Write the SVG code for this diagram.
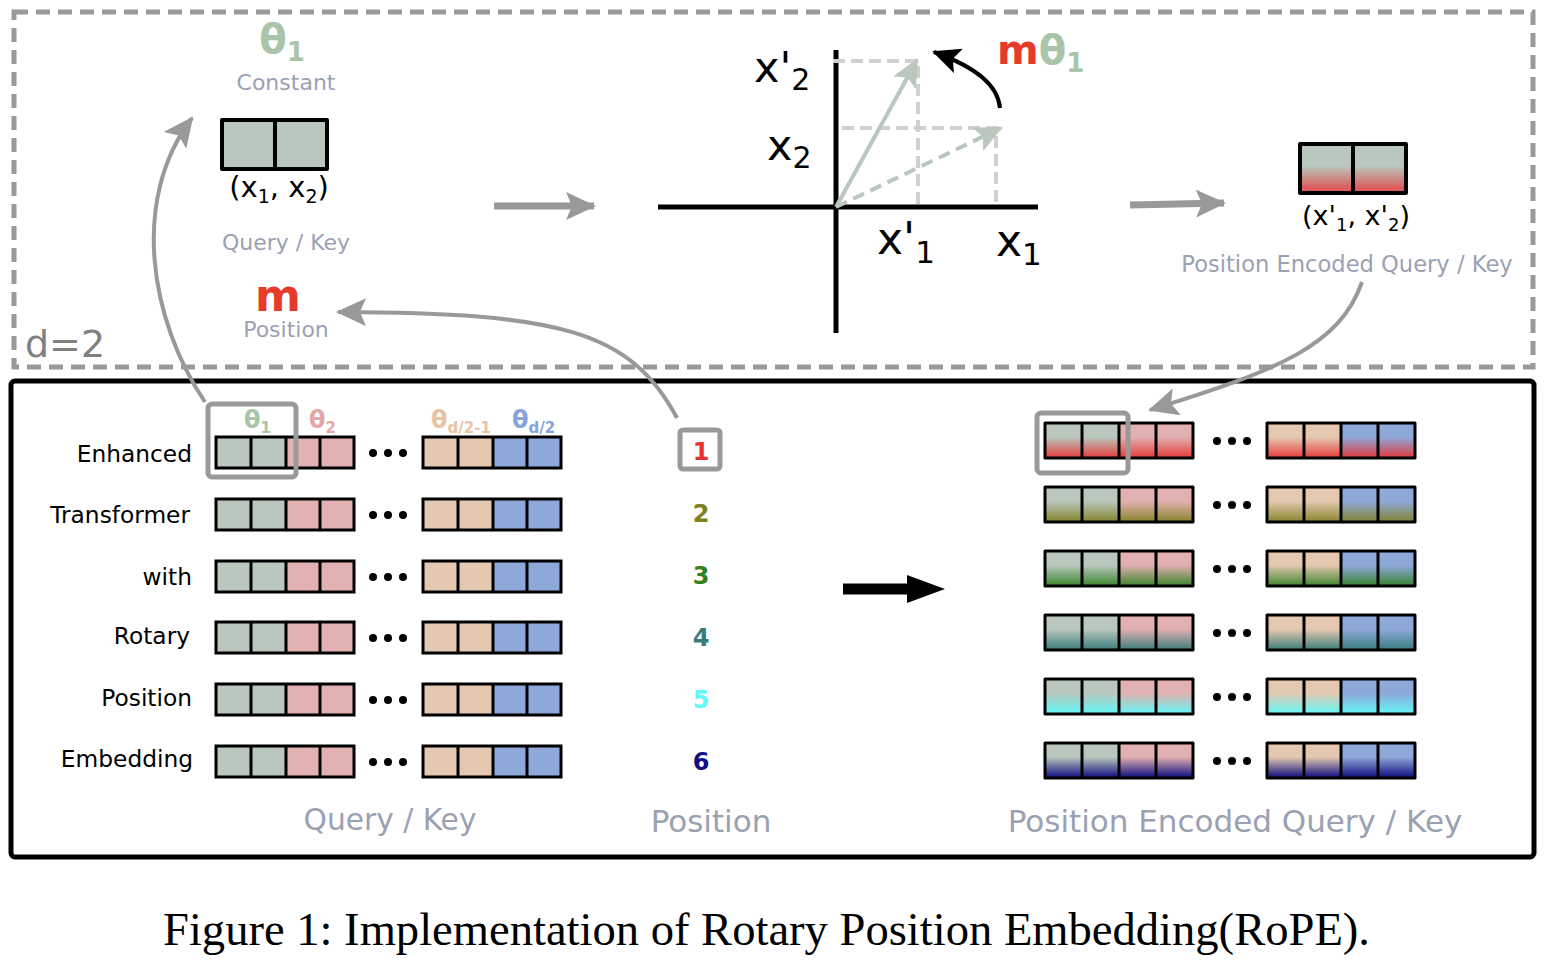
<svg xmlns="http://www.w3.org/2000/svg" width="1548" height="962" viewBox="0 0 1548 962">
<defs>
<style>
.t{font-family:"DejaVu Sans",sans-serif}
.g{fill:#9aa1b3}
.c{stroke:#000;stroke-width:3}
.gr{fill:#b9c7bd}.pk{fill:#e1b0b0}.tn{fill:#e4c8b0}.bl{fill:#8fa8da}
.cap{font-family:"Liberation Serif","Times New Roman",serif;font-size:46px}
</style>
<marker id="ag" markerUnits="userSpaceOnUse" markerWidth="32" markerHeight="28" refX="28" refY="14" orient="auto"><path d="M0,0 L30,14 L0,28 L6,14 Z" fill="#999"/></marker>
<marker id="ak" markerUnits="userSpaceOnUse" markerWidth="30" markerHeight="26" refX="26" refY="13" orient="auto"><path d="M0,0 L28,13 L0,26 L6,13 Z" fill="#000"/></marker>
<marker id="av" markerUnits="userSpaceOnUse" markerWidth="30" markerHeight="26" refX="26" refY="13" orient="auto"><path d="M0,0 L28,13 L0,26 L6,13 Z" fill="#b9c7bd"/></marker>
<linearGradient id="gTop" x1="0" y1="0" x2="0" y2="1"><stop offset="0.45" stop-color="#e05050" stop-opacity="0"/><stop offset="0.9" stop-color="#e05050" stop-opacity="0.9"/></linearGradient>
<linearGradient id="r1" x1="0" y1="0" x2="0" y2="1"><stop offset="0.4" stop-color="#e83030" stop-opacity="0"/><stop offset="0.95" stop-color="#e83030" stop-opacity="0.85"/></linearGradient>
<linearGradient id="r2" x1="0" y1="0" x2="0" y2="1"><stop offset="0.4" stop-color="#808020" stop-opacity="0"/><stop offset="0.95" stop-color="#808020" stop-opacity="0.85"/></linearGradient>
<linearGradient id="r3" x1="0" y1="0" x2="0" y2="1"><stop offset="0.4" stop-color="#308020" stop-opacity="0"/><stop offset="0.95" stop-color="#308020" stop-opacity="0.85"/></linearGradient>
<linearGradient id="r4" x1="0" y1="0" x2="0" y2="1"><stop offset="0.4" stop-color="#307878" stop-opacity="0"/><stop offset="0.95" stop-color="#307878" stop-opacity="0.85"/></linearGradient>
<linearGradient id="r5" x1="0" y1="0" x2="0" y2="1"><stop offset="0.4" stop-color="#60f8f8" stop-opacity="0"/><stop offset="0.95" stop-color="#60f8f8" stop-opacity="0.9"/></linearGradient>
<linearGradient id="r6" x1="0" y1="0" x2="0" y2="1"><stop offset="0.4" stop-color="#101080" stop-opacity="0"/><stop offset="0.95" stop-color="#101080" stop-opacity="0.95"/></linearGradient>
<g id="row">
<rect x="0" y="0" width="35" height="31" class="gr"/><rect x="35" y="0" width="35" height="31" class="gr"/>
<rect x="70" y="0" width="34" height="31" class="pk"/><rect x="104" y="0" width="34" height="31" class="pk"/>
<circle cx="157" cy="16" r="4"/><circle cx="172" cy="16" r="4"/><circle cx="187" cy="16" r="4"/>
<rect x="207" y="0" width="35" height="31" class="tn"/><rect x="242" y="0" width="35" height="31" class="tn"/>
<rect x="277" y="0" width="34" height="31" class="bl"/><rect x="311" y="0" width="34" height="31" class="bl"/>
<path d="M0,0H138V31H0Z M35,0V31 M70,0V31 M104,0V31 M207,0H345V31H207Z M242,0V31 M277,0V31 M311,0V31" fill="none" class="c"/>
</g>
<g id="rrow">
<rect x="0" y="0" width="37" height="35" class="gr"/><rect x="37" y="0" width="37" height="35" class="gr"/>
<rect x="74" y="0" width="37" height="35" class="pk"/><rect x="111" y="0" width="37" height="35" class="pk"/>
<circle cx="172" cy="18" r="4"/><circle cx="187" cy="18" r="4"/><circle cx="202" cy="18" r="4"/>
<rect x="222" y="0" width="37" height="35" class="tn"/><rect x="259" y="0" width="37" height="35" class="tn"/>
<rect x="296" y="0" width="37" height="35" class="bl"/><rect x="333" y="0" width="37" height="35" class="bl"/>
</g>
<path id="rgrid" d="M0,0H148V35H0Z M37,0V35 M74,0V35 M111,0V35 M222,0H370V35H222Z M259,0V35 M296,0V35 M333,0V35" fill="none" stroke="#000" stroke-width="3" stroke-linejoin="round"/>
</defs>
<rect width="1548" height="962" fill="#fff"/>

<g id="frames">
<rect x="14" y="12" width="1519" height="355" fill="none" stroke="#999" stroke-width="5" stroke-dasharray="14 8"/>
<rect x="11" y="381" width="1523" height="476" rx="4" fill="none" stroke="#000" stroke-width="5"/>
<text x="25" y="357" class="t" font-size="38" fill="#808080">d=2</text>
</g>

<g id="input2d">
<text x="282" y="53" class="t" font-size="40" font-weight="bold" fill="#a9c5a9" text-anchor="middle">θ<tspan font-size="26" dy="8">1</tspan></text>
<text x="286" y="90" class="t g" font-size="22" text-anchor="middle">Constant</text>
<rect x="222" y="120" width="53" height="49" class="gr"/><rect x="275" y="120" width="52" height="49" class="gr"/>
<path d="M222,120H327V169H222Z M275,120V169" fill="none" stroke="#000" stroke-width="4" stroke-linejoin="round"/>
<text x="279" y="197" class="t" font-size="29" text-anchor="middle">(x<tspan font-size="19" dy="6">1</tspan><tspan dy="-6">, x</tspan><tspan font-size="19" dy="6">2</tspan><tspan dy="-6">)</tspan></text>
<text x="286" y="250" class="t g" font-size="22" text-anchor="middle">Query / Key</text>
<text x="278" y="311" class="t" font-size="44" font-weight="bold" fill="#e63a2a" text-anchor="middle">m</text>
<text x="286" y="337" class="t g" font-size="22" text-anchor="middle">Position</text>
</g>

<g id="rotation">
<path d="M658,207H1038 M836,50V333" stroke="#000" stroke-width="5" fill="none"/>
<path d="M833,61H918V207 M842,128H996V207" stroke="#d0d0d0" stroke-width="4" stroke-dasharray="12 6" fill="none"/>
<text x="754" y="82" class="t" font-size="43">x'<tspan font-size="30" dy="8">2</tspan></text>
<text x="767" y="160" class="t" font-size="43">x<tspan font-size="30" dy="8">2</tspan></text>
<text x="877" y="254" class="t" font-size="44">x'<tspan font-size="31" dy="9">1</tspan></text>
<text x="996" y="256" class="t" font-size="44">x<tspan font-size="31" dy="9">1</tspan></text>
<text x="997" y="64" class="t" font-size="40" font-weight="bold"><tspan fill="#e63a2a">m</tspan><tspan fill="#a9c5a9">θ</tspan><tspan fill="#a9c5a9" font-size="26" dy="8">1</tspan></text>
</g>

<g id="output2d">
<rect x="1300" y="144" width="53" height="49" class="gr"/><rect x="1353" y="144" width="53" height="49" class="gr"/>
<rect x="1300" y="144" width="106" height="49" fill="url(#gTop)"/>
<path d="M1300,144H1406V193H1300Z M1353,144V193" fill="none" stroke="#000" stroke-width="4" stroke-linejoin="round"/>
<text x="1356" y="225" class="t" font-size="27" text-anchor="middle">(x'<tspan font-size="18" dy="6">1</tspan><tspan dy="-6">, x'</tspan><tspan font-size="18" dy="6">2</tspan><tspan dy="-6">)</tspan></text>
<text x="1347" y="272" class="t g" font-size="22.6" text-anchor="middle">Position Encoded Query / Key</text>
</g>

<g id="inputRows">
<g class="t" font-size="23.3" text-anchor="end">
<text x="192" y="462">Enhanced</text>
<text x="190" y="523">Transformer</text>
<text x="192" y="585">with</text>
<text x="190" y="644">Rotary</text>
<text x="192" y="706">Position</text>
<text x="193" y="767">Embedding</text>
</g>
<g class="t" font-size="24" font-weight="bold">
<text x="244" y="428" fill="#a9c5a9">θ<tspan font-size="15" dy="5">1</tspan></text>
<text x="309" y="428" fill="#e2a8a8">θ<tspan font-size="15" dy="5">2</tspan></text>
<text x="431" y="428" fill="#e8c4a6">θ<tspan font-size="15" dy="5">d/2-1</tspan></text>
<text x="512" y="428" fill="#87a3dc">θ<tspan font-size="15" dy="5">d/2</tspan></text>
</g>
<use href="#row" x="216" y="437"/>
<use href="#row" x="216" y="499"/>
<use href="#row" x="216" y="561"/>
<use href="#row" x="216" y="622"/>
<use href="#row" x="216" y="684"/>
<use href="#row" x="216" y="746"/>
<rect x="208" y="404" width="88" height="73" rx="4" fill="none" stroke="#999" stroke-width="5"/>
<text x="390" y="830" class="t g" font-size="29.7" text-anchor="middle">Query / Key</text>
</g>

<g id="positions" class="t" font-size="24" font-weight="bold" text-anchor="middle">
<rect x="680" y="430" width="40" height="39" rx="3" fill="none" stroke="#999" stroke-width="5"/>
<text x="701" y="460" fill="#e83030">1</text>
<text x="701" y="522" fill="#808020">2</text>
<text x="701" y="584" fill="#338020">3</text>
<text x="701" y="646" fill="#3a7c7c">4</text>
<text x="701" y="708" fill="#60f8f8">5</text>
<text x="701" y="770" fill="#101080">6</text>
<text x="711" y="832" class="g" font-size="31" font-weight="normal">Position</text>
</g>

<g id="outputRows">
<use href="#rrow" x="1045" y="423"/><rect x="1045" y="423" width="148" height="35" fill="url(#r1)"/><rect x="1267" y="423" width="148" height="35" fill="url(#r1)"/><use href="#rgrid" x="1045" y="423"/>
<use href="#rrow" x="1045" y="487"/><rect x="1045" y="487" width="148" height="35" fill="url(#r2)"/><rect x="1267" y="487" width="148" height="35" fill="url(#r2)"/><use href="#rgrid" x="1045" y="487"/>
<use href="#rrow" x="1045" y="551"/><rect x="1045" y="551" width="148" height="35" fill="url(#r3)"/><rect x="1267" y="551" width="148" height="35" fill="url(#r3)"/><use href="#rgrid" x="1045" y="551"/>
<use href="#rrow" x="1045" y="615"/><rect x="1045" y="615" width="148" height="35" fill="url(#r4)"/><rect x="1267" y="615" width="148" height="35" fill="url(#r4)"/><use href="#rgrid" x="1045" y="615"/>
<use href="#rrow" x="1045" y="679"/><rect x="1045" y="679" width="148" height="35" fill="url(#r5)"/><rect x="1267" y="679" width="148" height="35" fill="url(#r5)"/><use href="#rgrid" x="1045" y="679"/>
<use href="#rrow" x="1045" y="743"/><rect x="1045" y="743" width="148" height="35" fill="url(#r6)"/><rect x="1267" y="743" width="148" height="35" fill="url(#r6)"/><use href="#rgrid" x="1045" y="743"/>
<rect x="1037" y="413" width="91" height="60" rx="4" fill="none" stroke="#999" stroke-width="5"/>
<text x="1235" y="832" class="t g" font-size="31" text-anchor="middle">Position Encoded Query / Key</text>
</g>

<g id="connectors" fill="none">
<path d="M494,206H594" stroke="#999" stroke-width="7" marker-end="url(#ag)"/>
<path d="M1130,205L1224,203" stroke="#999" stroke-width="7" marker-end="url(#ag)"/>
<path d="M836,207L917,60" stroke="#b9c7bd" stroke-width="4" marker-end="url(#av)"/>
<path d="M836,207L1001,128" stroke="#b9c7bd" stroke-width="4" stroke-dasharray="12 7" marker-end="url(#av)"/>
<path d="M1000,108C998,86 978,68 934,52" stroke="#000" stroke-width="4" marker-end="url(#ak)"/>
<path d="M205,402C150,320 130,200 192,118" stroke="#999" stroke-width="4" marker-end="url(#ag)"/>
<path d="M677,418C630,330 560,313 338,312" stroke="#999" stroke-width="4" marker-end="url(#ag)"/>
<path d="M1362,282C1340,345 1280,370 1150,410" stroke="#999" stroke-width="4" marker-end="url(#ag)"/>
<path d="M843,589H915" stroke="#000" stroke-width="11"/>
<path d="M907,575L945,589L907,603Z" fill="#000"/>
</g>

<text x="163" y="945" class="cap" textLength="1207" lengthAdjust="spacingAndGlyphs">Figure 1: Implementation of Rotary Position Embedding(RoPE).</text>
</svg>
